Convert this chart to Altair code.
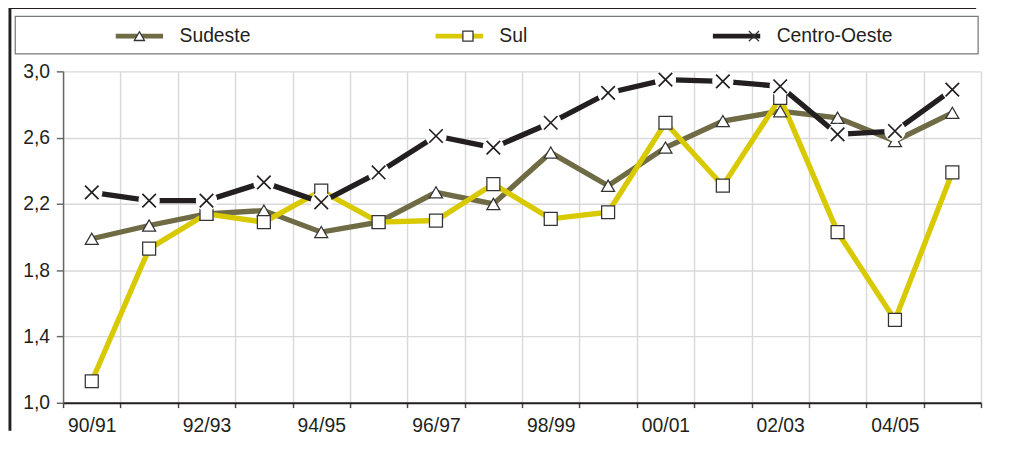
import altair as alt
import pandas as pd

seasons = ["90/91", "91/92", "92/93", "93/94", "94/95", "95/96", "96/97", "97/98",
           "98/99", "99/00", "00/01", "01/02", "02/03", "03/04", "04/05", "05/06"]
regions = ["Sudeste", "Sul", "Centro-Oeste"]
sudeste = [1.99, 2.07, 2.14, 2.16, 2.03, 2.09, 2.27, 2.20, 2.51, 2.31, 2.54, 2.70, 2.76, 2.72, 2.58, 2.75]
sul = [1.13, 1.93, 2.14, 2.09, 2.28, 2.09, 2.10, 2.32, 2.11, 2.15, 2.69, 2.31, 2.84, 2.03, 1.50, 2.39]
centro_oeste = [2.27, 2.22, 2.22, 2.33, 2.21, 2.39, 2.61, 2.54, 2.69, 2.87, 2.95, 2.94, 2.91, 2.62, 2.64, 2.89]
y_ticks = [1.0, 1.4, 1.8, 2.2, 2.6, 3.0]

line_colors = ["#6e6b45", "#d8c900", "#231f20"]
x_path = "M-1,-1L1,1M1,-1L-1,1"
marker_shapes = ["triangle-up", "square", x_path]

rows = []
for name, vals in zip(regions, [sudeste, sul, centro_oeste]):
    for i, (s, v) in enumerate(zip(seasons, vals)):
        rows.append({"Indice": i, "Safra": s, "Regiao": name, "Marcador": name, "Valor": v})
df = pd.DataFrame(rows)

# band boundaries (ticks / grid) and labels shown every other season
x_bounds = [i - 0.5 for i in range(len(seasons) + 1)]
x_label_expr = " : ".join(
    f"datum.value == {i - 0.5} ? '{s}'" for i, s in enumerate(seasons) if i % 2 == 0
) + " : ''"
y_label_expr = " : ".join(
    f"datum.value == {v} ? '{format(v, '.1f').replace('.', ',')}'" for v in y_ticks
) + " : ''"

plot_w = 950
band_half = plot_w / len(seasons) / 2

x_enc = alt.X(
    "Indice:Q",
    scale=alt.Scale(domain=[-0.5, len(seasons) - 0.5], nice=False, zero=False),
    axis=alt.Axis(
        title=None, values=x_bounds, labelExpr=x_label_expr,
        labelAngle=0, labelOverlap=False, labelFlush=False, labelAlign="center",
        labelOffset=band_half, labelFontSize=20, labelColor="#231f20", labelPadding=9,
        tickSize=5, tickColor="#444444", tickWidth=1.5,
        domainColor="#231f20", domainWidth=2,
        grid=True, gridColor="#d9d9d9", gridWidth=1.5,
    ),
)
y_enc = alt.Y(
    "Valor:Q",
    scale=alt.Scale(domain=[1.0, 3.0], nice=False, zero=False),
    axis=alt.Axis(
        title=None, values=y_ticks, labelExpr=y_label_expr, labelFlush=False,
        labelFontSize=20, labelColor="#231f20", labelPadding=7,
        tickSize=7, tickColor="#666666", tickWidth=1.5,
        domainColor="#666666", domainWidth=1.5,
        grid=True, gridColor="#d9d9d9", gridWidth=1.5,
    ),
)

base = alt.Chart(df)

lines = base.mark_line(strokeWidth=5.5).encode(
    x=x_enc, y=y_enc,
    color=alt.Color(
        "Regiao:N",
        scale=alt.Scale(domain=regions, range=line_colors),
        legend=alt.Legend(
            title=None, orient="none", legendX=52, legendY=-63.5,
            direction="horizontal", columns=3, columnPadding=181,
            symbolType="stroke", symbolSize=2401, symbolStrokeWidth=5,
            labelOffset=14.5, labelFontSize=20, labelColor="#231f20",
            padding=0,
        ),
    ),
)

markers = base.mark_point(filled=False, fill="white", stroke="#333333", strokeWidth=1.3,
                          opacity=1, fillOpacity=1, size=180).encode(
    x=x_enc, y=y_enc,
    shape=alt.Shape(
        "Marcador:N",
        scale=alt.Scale(domain=regions + ["_"], range=marker_shapes + ["circle"]),
        legend=alt.Legend(
            title=None, orient="none", legendX=52, legendY=-46.5, values=regions,
            direction="horizontal", columns=3, columnPadding=181,
            symbolSize=110, symbolStrokeWidth=1.3, symbolOffset=17, labelOffset=48.5,
            labelFontSize=20, labelColor="#231f20", labelOpacity=0, padding=0,
        ),
    ),
)

centro = base.transform_filter(alt.datum.Regiao == "Centro-Oeste")
halo = centro.mark_point(shape="circle", filled=True, fill="white", opacity=1, size=484).encode(
    x=x_enc, y=y_enc)
crosses = centro.mark_point(shape=x_path, filled=False, stroke="#231f20", strokeWidth=1.7,
                            size=196, opacity=1).encode(x=x_enc, y=y_enc)

deco = alt.Chart(alt.Data(values=[{"k": 0}]))
frame_left = deco.mark_rule(color="#231f20", strokeWidth=3).encode(
    x=alt.value(-55), y=alt.value(-66), y2=alt.value(372))
frame_top = deco.mark_rule(color="#231f20", strokeWidth=3).encode(
    x=alt.value(-56), x2=alt.value(945), y=alt.value(-66))
legend_box = deco.mark_rect(fill="white", fillOpacity=0, stroke="#7a7a7a", strokeWidth=1.3).encode(
    x=alt.value(-49.5), x2=alt.value(947), y=alt.value(-57), y2=alt.value(-18))

chart = alt.layer(
    frame_left, frame_top, legend_box, lines, markers, halo, crosses
).properties(
    width=plot_w, height=343,
    padding={"left": -1, "top": -10, "right": 0, "bottom": 0},
).configure(
    font="Liberation Sans"
).configure_view(strokeWidth=0)

chart.save("out.html", embed_options={"renderer": "svg", "actions": False})
